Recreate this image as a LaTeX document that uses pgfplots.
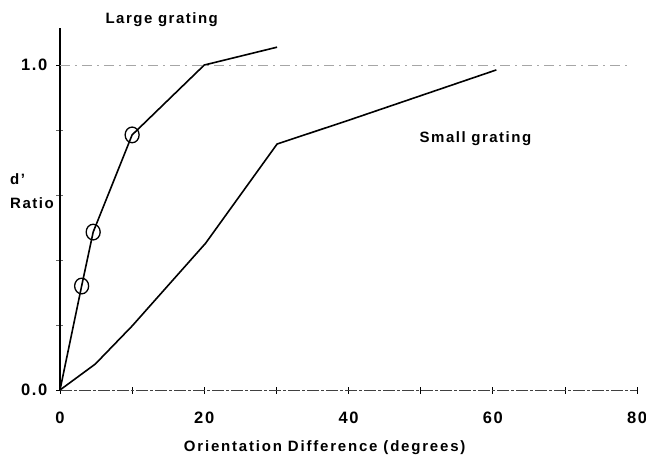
\documentclass[border=0pt]{standalone}
\usepackage{pgfplots}
\pgfplotsset{compat=1.18}
\usepackage{fontspec}
\setmainfont{Liberation Sans}[LetterSpace=10]
\newcommand{\lbl}{\bfseries\fontsize{15bp}{18bp}\selectfont}
\newcommand{\tlbl}{\bfseries\fontsize{16.5bp}{18bp}\selectfont}
\begin{document}
\begin{tikzpicture}
\path[use as bounding box] (-60bp,-72bp) rectangle (586bp,390bp);
\begin{axis}[
  at={(0,0)}, anchor=south west,
  scale only axis, width=577bp, height=362bp,
  xmin=0, xmax=80, ymin=0, ymax=1.114,
  axis x line=bottom, axis y line=left,
  axis line style={-},
  x axis line style={black!75, line width=0.6bp, dash pattern=on 12bp off 2bp on 3bp off 2bp},
  y axis line style={black, line width=1.2bp},
  tick align=center,
  major tick length=7bp, minor tick length=7bp,
  xtick={0,20,40,60,80}, xticklabels={0,20,40,60,80},
  minor xtick={10,30,50,70},
  ytick={0,1}, yticklabels={0.0,1.0},
  minor ytick={0.2,0.4,0.6,0.8},
  tick style={black, line width=0.6bp},
  minor y tick style={black!60, line width=0.4bp},
  ticklabel style={font=\tlbl},
  xticklabel style={anchor=north, inner sep=0pt, yshift=-18bp},
  yticklabel style={anchor=east, inner sep=0pt, xshift=-9bp},
  clip=false,
]
% 1.0 reference line
\addplot[gray!70, line width=0.6bp, dash pattern=on 10bp off 5bp on 2bp off 5bp] coordinates {(0,1) (78.8,1)};
% Large grating
\addplot[black, line width=1.6bp] coordinates {(0,0) (3,0.32) (4.6,0.486) (10,0.785) (20,1.0) (30.1,1.055)};
\addplot[only marks, mark=o, mark size=7bp, mark options={line width=1.3bp, black, yscale=1.12}] coordinates {(3,0.32) (4.6,0.486) (10,0.785)};
% Small grating
\addplot[black, line width=1.6bp] coordinates {(0,0) (4.9,0.08) (10,0.197) (20.2,0.452) (30.1,0.757) (40,0.83) (60.5,0.985)};
\node[font=\lbl, anchor=base] at (axis cs:14.1,1.129) {Large grating};
\node[font=\lbl, anchor=base] at (axis cs:57.6,0.763) {Small grating};
\node[font=\lbl, anchor=base west, inner sep=0pt] at (axis cs:-6.93,0.631) {d'};
\node[font=\lbl, anchor=base west, inner sep=0pt] at (axis cs:-6.93,0.557) {Ratio};
\node[font=\lbl\addfontfeature{LetterSpace=12}, anchor=base] at (axis cs:36.7,-0.19) {Orientation Difference (degrees)};
\end{axis}
\end{tikzpicture}
\end{document}
